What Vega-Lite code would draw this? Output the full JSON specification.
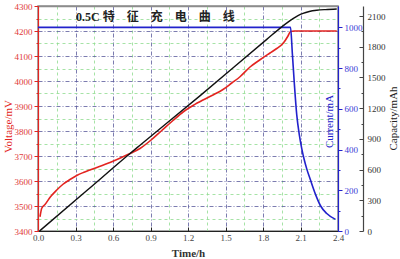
{
  "$schema": "https://vega.github.io/schema/vega-lite/v6.json",
  "width": 300,
  "height": 225,
  "autosize": {"type": "none"},
  "padding": {"left": 38, "top": 6, "right": 62, "bottom": 28},
  "background": "white",
  "config": {
    "view": {"stroke": "#8c8c8c", "strokeWidth": 1.5},
    "axis": {"labelFont": "Liberation Serif", "titleFont": "Liberation Serif", "labelFontSize": 9, "titleFontSize": 11, "titleFontWeight": "normal", "labelOverlap": false, "labelFlush": false}
  },
  "title": {"text": "0.5C 特　征　充　电　曲　线", "anchor": "start", "frame": "group", "dx": 38, "offset": -22, "fontSize": 12, "font": "Liberation Serif, Noto Sans CJK SC", "fontWeight": "bold", "color": "#222222"},
  "datasets": {
    "voltage": [
      {"t": 0.016, "V": 3457}, {"t": 0.03, "V": 3491}, {"t": 0.056, "V": 3506}, {"t": 0.1, "V": 3537},
      {"t": 0.15, "V": 3564}, {"t": 0.2, "V": 3587}, {"t": 0.256, "V": 3606}, {"t": 0.31, "V": 3622},
      {"t": 0.363, "V": 3634}, {"t": 0.42, "V": 3645}, {"t": 0.47, "V": 3654}, {"t": 0.576, "V": 3674},
      {"t": 0.65, "V": 3690}, {"t": 0.71, "V": 3704}, {"t": 0.816, "V": 3730}, {"t": 0.9, "V": 3762},
      {"t": 0.99, "V": 3802}, {"t": 1.08, "V": 3842}, {"t": 1.163, "V": 3877}, {"t": 1.24, "V": 3902},
      {"t": 1.32, "V": 3924}, {"t": 1.4, "V": 3944}, {"t": 1.48, "V": 3966}, {"t": 1.55, "V": 3992},
      {"t": 1.616, "V": 4017}, {"t": 1.696, "V": 4056}, {"t": 1.776, "V": 4085}, {"t": 1.856, "V": 4112},
      {"t": 1.91, "V": 4130}, {"t": 1.963, "V": 4152}, {"t": 2.0, "V": 4180}, {"t": 2.02, "V": 4198},
      {"t": 2.05, "V": 4200}, {"t": 2.39, "V": 4200}
    ],
    "capacity": [
      {"t": 0.012, "C": 0}, {"t": 0.4, "C": 405}, {"t": 0.71, "C": 730}, {"t": 0.816, "C": 838},
      {"t": 1.3, "C": 1325}, {"t": 1.83, "C": 1872}, {"t": 1.95, "C": 1994}, {"t": 2.0, "C": 2040},
      {"t": 2.04, "C": 2074}, {"t": 2.08, "C": 2104}, {"t": 2.12, "C": 2126}, {"t": 2.17, "C": 2144},
      {"t": 2.23, "C": 2156}, {"t": 2.3, "C": 2163}, {"t": 2.39, "C": 2168}
    ],
    "current": [
      {"t": 0.0, "I": 1000}, {"t": 2.02, "I": 1000}, {"t": 2.035, "I": 870}, {"t": 2.05, "I": 730},
      {"t": 2.07, "I": 570}, {"t": 2.09, "I": 475}, {"t": 2.11, "I": 405}, {"t": 2.13, "I": 350},
      {"t": 2.15, "I": 305}, {"t": 2.18, "I": 250}, {"t": 2.22, "I": 180}, {"t": 2.26, "I": 124},
      {"t": 2.31, "I": 86}, {"t": 2.38, "I": 57}
    ]
  },
  "layer": [
    {
      "data": {"name": "voltage"},
      "mark": {"type": "line", "color": "#e32420", "strokeWidth": 1.6, "interpolate": "monotone"},
      "encoding": {
        "x": {
          "field": "t", "type": "quantitative",
          "scale": {"domain": [0, 2.4], "nice": false, "zero": false},
          "axis": {
            "orient": "bottom",
            "title": "Time/h", "titleColor": "#333333", "titleFontWeight": "bold", "titleFontSize": 11, "titlePadding": 5,
            "values": [0, 0.3, 0.6, 0.9, 1.2, 1.5, 1.8, 2.1, 2.4],
            "format": ".1f",
            "labelOverlap": false,
            "labelColor": "#444444", "labelPadding": 6,
            "domainColor": "#222222", "domainWidth": 1.2,
            "tickColor": "#222222",
            "tickSize": -4,
            "grid": true,
            "gridColor": "#5a5a9c",
            "gridDash": [4, 2, 1, 2],
            "gridWidth": 0.8
          }
        },
        "y": {
          "field": "V", "type": "quantitative",
          "scale": {"domain": [3400, 4300], "nice": false, "zero": false},
          "axis": {
            "orient": "left", "title": "Voltage/mV", "titleColor": "#e32420",
            "titleAngle": 270, "titleX": -30, "titleY": 120, "titleAlign": "center", "titleBaseline": "middle",
            "values": [3400, 3450, 3500, 3550, 3600, 3650, 3700, 3750, 3800, 3850, 3900, 3950, 4000, 4050, 4100, 4150, 4200, 4250, 4300],
            "labelOverlap": false,
            "labelExpr": "datum.value % 100 === 0 ? datum.label : ''",
            "format": "d",
            "labelColor": "#e03a3a", "labelPadding": 2,
            "domainColor": "#e32420", "domainWidth": 1.2,
            "tickColor": "#e32420",
            "tickSize": {"condition": {"test": "datum.value % 100 === 0", "value": 4}, "value": 2},
            "grid": true,
            "gridColor": {"condition": {"test": "datum.value % 100 === 0", "value": "#5a5a9c"}, "value": "#8fdc8f"},
            "gridDash": {"condition": {"test": "datum.value % 100 === 0", "value": [4, 2, 1, 2]}, "value": [3, 3]},
            "gridWidth": 0.8
          }
        }
      }
    },
    {
      "data": {"name": "current"},
      "mark": {"type": "line", "color": "#2222cc", "strokeWidth": 1.6, "interpolate": "monotone"},
      "encoding": {
        "x": {
          "field": "t", "type": "quantitative",
          "axis": {
            "orient": "top", "title": null, "labels": false, "ticks": false,
            "values": [0.15, 0.45, 0.75, 1.05, 1.35, 1.65, 1.95, 2.25],
            "domainColor": "#8c8c8c", "domainWidth": 1.5,
            "grid": true, "gridColor": "#8fdc8f", "gridDash": [3, 3], "gridWidth": 0.8
          }
        },
        "y": {
          "field": "I", "type": "quantitative",
          "scale": {"domain": [0, 1105], "nice": false},
          "axis": {
            "orient": "right", "title": "Current/mA", "titleColor": "#2222cc",
            "titleAngle": 270, "titleX": -9, "titleY": 115, "titleAlign": "center", "titleBaseline": "middle",
            "values": [0, 100, 200, 300, 400, 500, 600, 700, 800, 900, 1000],
            "labelOverlap": false,
            "labelExpr": "datum.value % 200 === 0 ? datum.label : ''",
            "format": "d",
            "labelColor": "#3b3bd6", "labelPadding": 2,
            "domainColor": "#2222cc", "domainWidth": 1.2,
            "tickColor": "#2222cc",
            "tickSize": {"condition": {"test": "datum.value % 200 === 0", "value": 4}, "value": 2},
            "grid": false
          }
        }
      }
    },
    {
      "data": {"name": "capacity"},
      "mark": {"type": "line", "color": "#111111", "strokeWidth": 1.4, "interpolate": "monotone"},
      "encoding": {
        "x": {"field": "t", "type": "quantitative", "axis": null},
        "y": {
          "field": "C", "type": "quantitative",
          "scale": {"domain": [0, 2198], "nice": false},
          "axis": {
            "orient": "right", "offset": 25, "title": "Capacity/mAh", "titleColor": "#222222",
            "titleAngle": 270, "titleX": 30, "titleY": 112, "titleAlign": "center", "titleBaseline": "middle",
            "values": [0, 150, 300, 450, 600, 750, 900, 1050, 1200, 1350, 1500, 1650, 1800, 1950, 2100],
            "labelOverlap": false,
            "labelExpr": "datum.value % 300 === 0 ? datum.label : ''",
            "format": "d",
            "labelColor": "#333333", "labelPadding": 8,
            "domainColor": "#444444", "domainWidth": 1.2,
            "tickColor": "#444444",
            "tickSize": {"condition": {"test": "datum.value % 300 === 0", "value": -4}, "value": -2},
            "grid": false
          }
        }
      }
    }
  ],
  "resolve": {"scale": {"y": "independent"}, "axis": {"x": "independent", "y": "independent"}}
}
